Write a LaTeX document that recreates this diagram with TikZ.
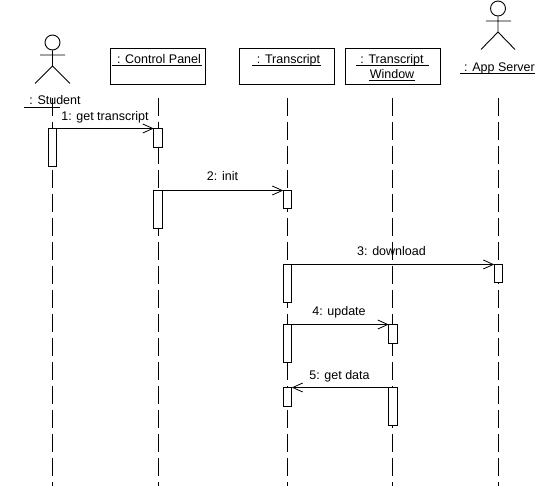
\documentclass[tikz,border=0pt]{standalone}
\usepackage{fontspec}
\setmainfont{Liberation Sans}
\usetikzlibrary{arrows.meta}
\tikzset{
  ln/.style={line width=0.9bp,black},
  objbox/.style={draw,line width=0.9bp,fill=white,inner sep=0pt,outer sep=0pt,minimum height=36bp,minimum width=95bp},
  bar/.style={draw,line width=0.9bp,fill=white,inner sep=0pt,outer sep=0pt,minimum width=8.5bp,anchor=north},
  life/.style={ln,dash pattern=on 18bp off 6bp},
  msg/.style={ln,-{Straight Barb[length=10bp,width=9bp,line width=0.8bp]}},
  lbl/.style={inner sep=0pt,anchor=base,font=\fontsize{12.5bp}{14bp}\selectfont}
}
\begin{document}
\begin{tikzpicture}[x=1bp,y=-1bp]
\useasboundingbox (0,0) rectangle (550,486);
\fill[white] (0,0) rectangle (550,486);
% life lines
\foreach \n/\x in {a/52.5,b/158,c/287.5,d/392.5,e/498.5}{
  \coordinate (\n top) at (\x,98);
  \coordinate (\n bot) at (\x,486);
  \draw[life] (\n top) -- (\n bot);
}
% object boxes
\node[objbox] (cp) at (158,66.5) {};
\node[objbox] (tr) at (287,66.5) {};
\node[objbox] (tw) at (393,66.5) {};
% actors
\node[draw,ln,circle,minimum size=15bp,inner sep=0pt] (h1) at (52.5,42.5) {};
\coordinate (n1) at (52.5,66);
\coordinate (l1) at (35,83.5);
\coordinate (r1) at (70,83.5);
\coordinate (aL1) at (40,55);
\coordinate (aR1) at (65,55);
\draw[ln] (h1) -- (n1) -- (l1) (n1) -- (r1) (aL1) -- (aR1);
\node[draw,ln,circle,minimum size=15bp,inner sep=0pt] (h2) at (498,8.5) {};
\coordinate (n2) at (498,32);
\coordinate (l2) at (481,49.5);
\coordinate (r2) at (515,49.5);
\coordinate (aL2) at (486,21);
\coordinate (aR2) at (511,21);
\draw[ln] (h2) -- (n2) -- (l2) (n2) -- (r2) (aL2) -- (aR2);
% box / actor labels
\node[lbl] (tcp) at (159,64) {: Control Panel};
\node[lbl] (ttr) at (288.5,64) {: Transcript};
\node[lbl] (ttw) at (392,64) {: Transcript};
\node[lbl] (ttw2) at (392,79) {Window};
\node[lbl] (tas) at (499.5,72) {: App Server};
\node[lbl] (tst) at (55,105) {: Student};
% underlines
\coordinate (u1a) at (112,65.5); \coordinate (u1b) at (202,65.5);
\coordinate (u2a) at (252,65.5); \coordinate (u2b) at (321,65.5);
\coordinate (u3a) at (356,65.5); \coordinate (u3b) at (429,65.5);
\coordinate (u4a) at (369,80.5); \coordinate (u4b) at (415,80.5);
\coordinate (u5a) at (460,73.5); \coordinate (u5b) at (535,73.5);
\coordinate (u6a) at (24,107.5); \coordinate (u6b) at (60,107.5);
\draw[ln] (u1a)--(u1b) (u2a)--(u2b) (u3a)--(u3b) (u4a)--(u4b) (u5a)--(u5b) (u6a)--(u6b);
% activation bars
\node[bar,minimum height=38bp] (s1) at (52.5,128.5) {};
\node[bar,minimum height=19bp] (p1) at (158,128.5) {};
\node[bar,minimum height=38bp] (p2) at (158,190.5) {};
\node[bar,minimum height=18bp] (t1) at (287.5,190.5) {};
\node[bar,minimum height=38bp] (t2) at (287.5,264.5) {};
\node[bar,minimum height=18bp] (v1) at (498.5,264.5) {};
\node[bar,minimum height=38bp] (t3) at (287.5,324.5) {};
\node[bar,minimum height=19bp] (w1) at (393,324.5) {};
\node[bar,minimum height=19bp] (t4) at (287.5,387.5) {};
\node[bar,minimum height=38bp] (w2) at (393,387.5) {};
% messages
\draw[msg] (s1.north east) -- (p1.north west);
\draw[msg] (p2.north east) -- (t1.north west);
\draw[msg] (t2.north east) -- (v1.north west);
\draw[msg] (t3.north east) -- (w1.north west);
\draw[msg] (w2.north west) -- (t4.north east);
% message labels
\node[lbl] (m1) at (105,120.5) {1: get transcript};
\node[lbl] (m2) at (222.5,181) {2: init};
\node[lbl] (m3) at (391.5,255) {3: download};
\node[lbl] (m4) at (339,315.5) {4: update};
\node[lbl] (m5) at (339.5,379) {5: get data};
\end{tikzpicture}
\end{document}
